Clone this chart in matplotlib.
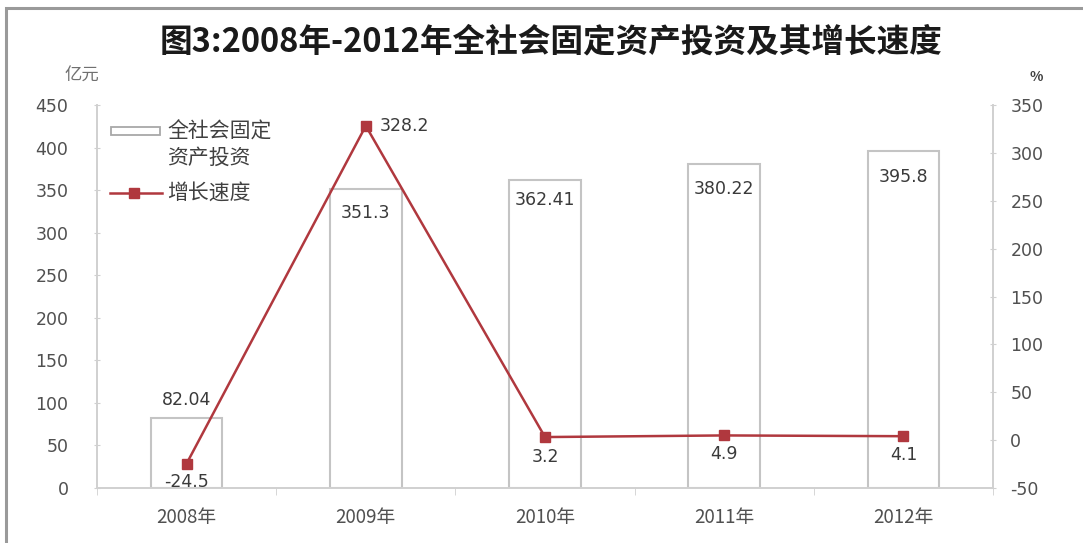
import matplotlib
matplotlib.use("Agg")
import matplotlib.pyplot as plt
from matplotlib.patches import Rectangle
from matplotlib.lines import Line2D
from matplotlib.ticker import FixedLocator

plt.rcParams['font.family'] = ['Noto Sans CJK SC', 'DejaVu Sans']
plt.rcParams['axes.unicode_minus'] = False

years = ["2008年", "2009年", "2010年", "2011年", "2012年"]
investment = [82.04, 351.3, 362.41, 380.22, 395.8]
growth = [-24.5, 328.2, 3.2, 4.9, 4.1]
inv_labels = ["82.04", "351.3", "362.41", "380.22", "395.8"]
growth_labels = ["-24.5", "328.2", "3.2", "4.9", "4.1"]
left_ticks = [0, 50, 100, 150, 200, 250, 300, 350, 400, 450]
right_ticks = [-50, 0, 50, 100, 150, 200, 250, 300, 350]

W, H = 1083, 543
fig = plt.figure(figsize=(W / 100, H / 100), dpi=100)
fig.patch.set_facecolor('white')

# outer frame
fig.add_artist(Rectangle((6 / W, -0.1), 1.2, 1 - 8 / H + 0.1, transform=fig.transFigure,
                         fill=False, edgecolor='#9a9a9a', linewidth=2.2, zorder=20))

ax = fig.add_axes([97 / W, 1 - 488 / H, (993 - 97) / W, (488 - 105) / H])
ax2 = ax.twinx()

x = list(range(len(years)))
line_color = '#B0383E'
bar_edge = '#c4c4c4'
text_color = '#3a3a3a'
tick_color = '#505050'

ax.bar(x, investment, width=0.4, color='white', edgecolor=bar_edge, linewidth=1.5, zorder=2)
ax.set_xlim(-0.5, 4.5)
ax.set_ylim(0, 450)
ax.set_yticks(left_ticks)
ax.set_xticks(x)
ax.set_xticklabels(years)
ax.xaxis.set_minor_locator(FixedLocator([i + 0.5 for i in range(-1, 5)]))
ax.tick_params(axis='x', which='major', length=0, pad=14, labelsize=13.5, labelcolor=tick_color)
ax.tick_params(axis='x', which='minor', length=5, color='#d0d0d0', direction='out')
ax.tick_params(axis='y', length=5, color='#d0d0d0', direction='inout', pad=18,
               labelsize=12.5, labelcolor=tick_color, labelfontfamily='DejaVu Sans')

ax2.plot(x, growth, color=line_color, linewidth=1.8, marker='s', markersize=7.5,
         markerfacecolor=line_color, markeredgecolor=line_color, zorder=5)
ax2.set_ylim(-50, 350)
ax2.set_yticks(right_ticks)
ax2.tick_params(axis='y', length=5, color='#d0d0d0', direction='inout', pad=10,
                labelsize=12.5, labelcolor=tick_color, labelfontfamily='DejaVu Sans')

for a in (ax, ax2):
    a.spines['top'].set_visible(False)
    for s in ('left', 'right', 'bottom'):
        a.spines[s].set_color('#d0d0d0')
        a.spines[s].set_linewidth(1.2)
ax.set_zorder(1)
ax2.set_zorder(2)
ax2.patch.set_visible(False)

# bar value labels (pixel offsets from bar top: negative = above)
bar_off = [-18, 24, 20, 25, 26]
for xi, v, lab, off in zip(x, investment, inv_labels, bar_off):
    ax.annotate(lab, (xi, v), xytext=(0, -off * 0.72), textcoords='offset points',
                ha='center', va='center', fontsize=12.5, color=text_color,
                family='DejaVu Sans', zorder=6)

# growth labels
g_off = [(0, 18), (14, 0), (0, 20), (0, 19), (0, 19)]
for xi, v, lab, (dx, dy) in zip(x, growth, growth_labels, g_off):
    ax2.annotate(lab, (xi, v), xytext=(dx * 0.72, -dy * 0.72), textcoords='offset points',
                 ha='left' if dx else 'center', va='center', fontsize=12.5,
                 color=text_color, family='DejaVu Sans', zorder=7)

# titles and units
fig.text(551 / W, 1 - 42 / H, "图3:2008年-2012年全社会固定资产投资及其增长速度",
         ha='center', va='center', fontsize=23.5, fontweight='bold', color='#1a1a1a')
fig.text(82 / W, 1 - 76 / H, "亿元", ha='center', va='center', fontsize=12.5, color='#707070')
fig.text(1036 / W, 1 - 77 / H, "%", ha='center', va='center', fontsize=10, color='#404040',
         fontweight='bold')

# legend (manual)
fig.add_artist(Rectangle((111 / W, 1 - 135 / H), 49 / W, 8 / H, transform=fig.transFigure,
                         facecolor='white', edgecolor='#a8a8a8', linewidth=1.3, zorder=10))
fig.text(167 / W, 1 - 132 / H, "全社会固定", ha='left', va='center', fontsize=15,
         color='#404040', zorder=10)
fig.text(167 / W, 1 - 158 / H, "资产投资", ha='left', va='center', fontsize=15,
         color='#404040', zorder=10)
fig.add_artist(Line2D([110 / W, 162 / W], [1 - 193 / H, 1 - 193 / H], transform=fig.transFigure,
                      color=line_color, linewidth=1.8, zorder=10))
fig.add_artist(Line2D([134 / W], [1 - 193 / H], transform=fig.transFigure, marker='s',
                      markersize=7.5, color=line_color, zorder=10))
fig.text(167 / W, 1 - 193 / H, "增长速度", ha='left', va='center', fontsize=15,
         color='#404040', zorder=10)

fig.savefig("out.png", dpi=100)
